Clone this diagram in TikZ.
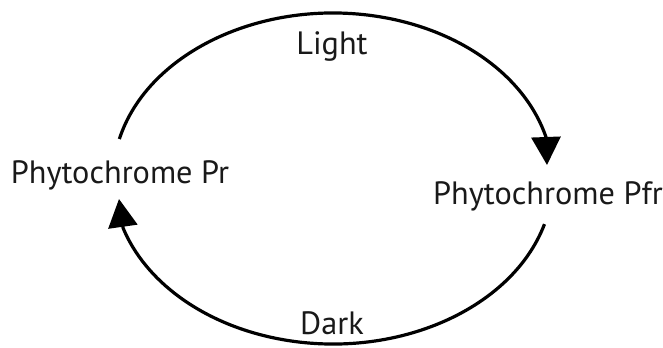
\documentclass[tikz,border=0pt]{standalone}
\usepackage{fontspec}
\setmainfont{PT Sans}
\usetikzlibrary{arrows.meta, calc}

\begin{document}
\begin{tikzpicture}[
  x=1bp, y=1bp,
  lbl/.style={font=\fontsize{32.4}{38}\selectfont, text=black!90, anchor=base, inner sep=0pt},
  cyc/.style={line width=3.2bp, -{Triangle[length=28bp, width=29bp]}}
]
  \useasboundingbox (0,0) rectangle (663,347);
  \coordinate (mid) at (333,168.5);
  \coordinate (prOut) at ($(mid)+(166.2:220 and 165.5)$);
  \coordinate (pfrOut) at ($(mid)+(-16:220 and 165.5)$);
  \coordinate (pfrIn) at (547,182);
  \coordinate (prIn) at (119,148);

  \node[lbl] (pr) at (120,164) {Phytochrome Pr};
  \node[lbl] (pfr) at (548,143) {Phytochrome Pfr};
  \node[lbl] (light) at (332,293) {Light};
  \node[lbl] (dark) at (332,13) {Dark};

  \draw[cyc] (prOut) arc[start angle=166.2, end angle=14.5, x radius=220, y radius=165.5] -- (pfrIn);
  \draw[cyc] (pfrOut) arc[start angle=-16, end angle=-162.6, x radius=220, y radius=165.5] -- (prIn);
\end{tikzpicture}
\end{document}
